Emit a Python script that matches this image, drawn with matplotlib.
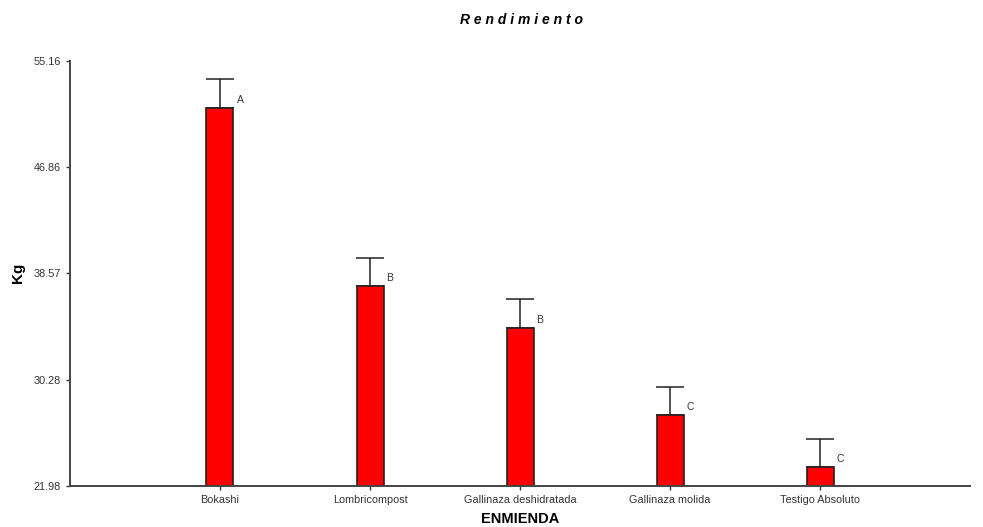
import matplotlib.pyplot as plt
import numpy as np

plt.rcParams['font.family'] = ['Liberation Sans', 'DejaVu Sans']

enmiendas = ["Bokashi", "Lombricompost", "Gallinaza deshidratada", "Gallinaza molida", "Testigo Absoluto"]
medias = [51.49, 37.60, 34.32, 27.53, 23.47]
error_sup = [2.26, 2.18, 2.26, 2.18, 2.18]
letras = ["A", "B", "B", "C", "C"]
y_ticks = [21.98, 30.28, 38.57, 46.86, 55.16]

fig = plt.figure(figsize=(9.83, 5.27), dpi=100)
ax = fig.add_axes([0.0712, 0.0778, 0.9156, 0.8065])

x = np.arange(1, len(enmiendas) + 1)
ax.bar(x, [m - y_ticks[0] for m in medias], bottom=y_ticks[0], width=0.18,
       color='#ff0000', edgecolor='#222222', linewidth=1.2, zorder=2)
ax.errorbar(x, medias, yerr=[np.zeros(len(medias)), error_sup], fmt='none',
            ecolor='#222222', elinewidth=1.1, capsize=10, capthick=1.1, zorder=1)

for xi, m, l in zip(x, medias, letras):
    ax.text(xi + 0.11, m + 0.2, l, fontsize=7.5, color='#333333', va='bottom')

ax.set_xlim(0, 6)
ax.set_ylim(y_ticks[0], y_ticks[-1])
ax.set_yticks(y_ticks)
ax.set_yticklabels([f"{v:.2f}" for v in y_ticks])
ax.set_xticks(x)
ax.set_xticklabels(enmiendas)
ax.tick_params(axis='both', labelsize=7.8, colors='#333333', length=3, width=1)

for s in ['top', 'right']:
    ax.spines[s].set_visible(False)
for s in ['left', 'bottom']:
    ax.spines[s].set_color('#444444')
    ax.spines[s].set_linewidth(1.4)

fig.text(18 / 983, 1 - 273 / 527, "Kg", fontsize=11, fontweight='bold',
         rotation=90, ha='center', va='center')
fig.text(520 / 983, 1 - 519 / 527, "ENMIENDA", fontsize=10.5, fontweight='bold',
         ha='center', va='center')
fig.text(0.531, 0.962, "R e n d i m i e n t o", fontsize=10, fontweight='bold',
         style='italic', ha='center', va='center')

fig.savefig("out.png", dpi=100)
